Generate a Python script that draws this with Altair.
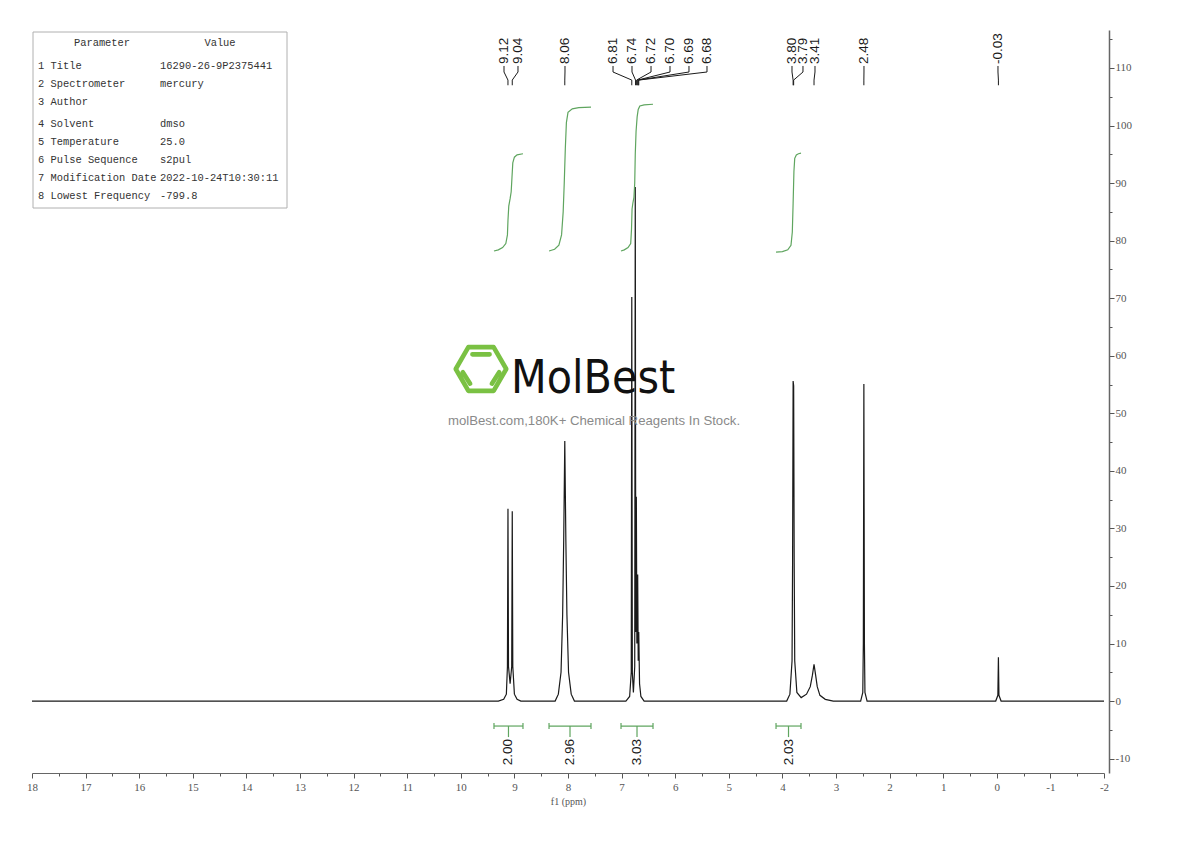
import altair as alt
import pandas as pd

# ---------------- spectrum (ppm, intensity) ----------------
spec_ppm = [18.0, 9.30, 9.20, 9.15, 9.13, 9.12, 9.11, 9.08, 9.05, 9.04, 9.03, 9.00, 8.95, 8.88,
            8.24, 8.18, 8.13, 8.10, 8.08, 8.06, 8.04, 8.02, 7.99, 7.94, 7.88,
            6.92, 6.85, 6.82, 6.81, 6.80, 6.78, 6.755, 6.745, 6.735, 6.725, 6.715, 6.70, 6.69, 6.68,
            6.665, 6.64, 6.58,
            3.92, 3.86, 3.82, 3.81, 3.80, 3.79, 3.78, 3.77, 3.73, 3.65, 3.55, 3.48, 3.44, 3.41,
            3.38, 3.35, 3.30, 3.20, 3.05,
            2.54, 2.50, 2.49, 2.48, 2.47, 2.46, 2.42,
            0.02, -0.02, -0.03, -0.04, -0.08, -2.0]
spec_int = [0.0, 0.0, 0.3, 1.2, 6.0, 33.4, 6.0, 3.0, 6.0, 33.0, 6.0, 1.2, 0.3, 0.0,
            0.0, 1.2, 5.0, 15.0, 28.0, 45.2, 28.0, 15.0, 5.0, 1.2, 0.0,
            0.0, 0.8, 5.0, 70.2, 5.0, 1.5, 6.0, 89.3, 12.0, 35.5, 10.0, 22.0, 7.0, 12.0,
            3.0, 0.8, 0.0,
            0.0, 1.2, 7.0, 24.0, 55.6, 54.8, 24.0, 7.0, 1.5, 0.6, 1.2, 2.5, 4.5, 6.4,
            4.5, 2.5, 1.0, 0.3, 0.0,
            0.0, 1.5, 10.0, 55.1, 10.0, 1.5, 0.0,
            0.0, 1.0, 7.6, 1.0, 0.0, 0.0]

# ---------------- integral curves ----------------
int1_ppm = [9.381, 9.30, 9.22, 9.16, 9.13, 9.12, 9.105, 9.08, 9.06, 9.045, 9.03, 9.00, 8.95, 8.84]
int1_val = [78.2, 78.4, 78.8, 79.5, 81.0, 83.5, 86.0, 87.3, 88.5, 91.0, 93.5, 94.5, 94.9, 95.1]
int2_ppm = [8.354, 8.25, 8.17, 8.12, 8.09, 8.07, 8.05, 8.03, 8.00, 7.92, 7.80, 7.571]
int2_val = [78.2, 78.5, 79.2, 81.0, 85.0, 90.0, 96.0, 100.5, 102.3, 102.9, 103.1, 103.2]
int3_ppm = [7.011, 6.95, 6.88, 6.83, 6.815, 6.805, 6.79, 6.77, 6.755, 6.745, 6.73, 6.71, 6.69,
            6.66, 6.58, 6.414]
int3_val = [78.2, 78.4, 78.8, 79.5, 82.0, 85.5, 86.5, 87.5, 90.0, 95.0, 99.0, 101.5, 102.8,
            103.4, 103.6, 103.7]
int4_ppm = [4.119, 4.00, 3.90, 3.84, 3.815, 3.80, 3.785, 3.77, 3.74, 3.70, 3.653]
int4_val = [78.0, 78.1, 78.4, 79.2, 81.5, 86.5, 92.0, 94.3, 94.9, 95.1, 95.2]

int_from = [9.381, 8.354, 7.011, 4.119]
int_to = [8.840, 7.571, 6.414, 3.653]
int_labels = ["2.00", "2.96", "3.03", "2.03"]

# ---------------- peak labels ----------------
peak_ppm = [9.12, 9.04, 8.06, 6.81, 6.74, 6.72, 6.70, 6.69, 6.68, 3.80, 3.79, 3.41, 2.48, -0.03]
peak_text = ["9.12", "9.04", "8.06", "6.81", "6.74", "6.72", "6.70", "6.69", "6.68",
             "3.80", "3.79", "3.41", "2.48", "-0.03"]
label_ppm = [9.194, 8.933, 8.056, 7.160, 6.806, 6.451, 6.097, 5.743, 5.407,
             3.821, 3.616, 3.392, 2.478, -0.022]

# ---------------- parameter table ----------------
param_names = ["1 Title", "2 Spectrometer", "3 Author", "4 Solvent", "5 Temperature",
               "6 Pulse Sequence", "7 Modification Date", "8 Lowest Frequency"]
param_values = ["16290-26-9P2375441", "mercury", "", "dmso", "25.0", "s2pul",
                "2022-10-24T10:30:11", "-799.8"]

logo_name = "MolBest"
logo_sub = "molBest.com,180K+ Chemical Reagents In Stock."

# ---------------- styling / layout ----------------
GREEN = "#5fa55f"
INK = "#1a1a1a"
AXC = "#555555"
SERIF = "Liberation Serif"
SANS = "Liberation Sans"
W, H = 1072, 743

XS = alt.Scale(domain=[-2, 18], reverse=True, nice=False, zero=False)
YS = alt.Scale(domain=[-12.5, 116.6], nice=False, zero=False)

X_AXIS = alt.Axis(
    values=[v / 2 for v in range(-4, 37)],
    labelExpr="datum.value % 1 === 0 ? (datum.value < 0 ? '-' + abs(datum.value) : '' + datum.value) : ''",
    tickSize={"condition": {"test": "datum.value % 1 === 0", "value": 5}, "value": 3},
    title="f1 (ppm)", titleFont=SERIF, titleFontSize=10, titleFontWeight="normal",
    titleColor=AXC, titlePadding=4,
    labelFont=SERIF, labelFontSize=11, labelColor=AXC, labelPadding=3,
    tickColor=AXC, domainColor="#666666", domainWidth=1.2, grid=False, labelFlush=False,
)
Y_AXIS = alt.Axis(
    orient="right", offset=5,
    values=list(range(-10, 116, 5)),
    labelExpr="datum.value % 10 === 0 ? (datum.value < 0 ? '-' + abs(datum.value) : '' + datum.value) : ''",
    tickSize={"condition": {"test": "datum.value % 10 === 0", "value": 5}, "value": 3},
    title=None, labelFont=SERIF, labelFontSize=11, labelColor=AXC, labelPadding=1,
    tickColor=AXC, domainColor="#666666", domainWidth=1.5, grid=False,
)


def xq(f):
    return alt.X(f, type="quantitative", scale=XS, axis=X_AXIS)


def yq(f):
    return alt.Y(f, type="quantitative", scale=YS, axis=Y_AXIS)


def px(f):
    return alt.X(f, type="quantitative", scale=None)


def py(f):
    return alt.Y(f, type="quantitative", scale=None)


# spectrum
spec_df = pd.DataFrame({"ppm": spec_ppm, "v": spec_int, "i": range(len(spec_ppm))})
spectrum = alt.Chart(spec_df).mark_line(color=INK, strokeWidth=1.2).encode(
    x=xq("ppm"), y=yq("v"), order="i:Q")

# integral curves
rows = []
for k, (pp, vv) in enumerate([(int1_ppm, int1_val), (int2_ppm, int2_val),
                              (int3_ppm, int3_val), (int4_ppm, int4_val)]):
    for j, (a, b) in enumerate(zip(pp, vv)):
        rows.append({"r": k, "ppm": a, "v": b, "i": j})
int_df = pd.DataFrame(rows)
integrals = alt.Chart(int_df).mark_line(color=GREEN, strokeWidth=1.2).encode(
    x=xq("ppm"), y=yq("v"), detail="r:N", order="i:Q")

# integral brackets below baseline (y in intensity units)
BAR_Y, CAP, TICK_Y, TXT_Y = -4.34, 0.52, -6.26, -6.6
br_df = pd.DataFrame({"a": int_from, "b": int_to, "lab": int_labels})
br_df["mid"] = (br_df["a"] + br_df["b"]) / 2
br_df["bar"] = BAR_Y
br_df["c1"] = BAR_Y + CAP
br_df["c2"] = BAR_Y - CAP
br_df["t2"] = TICK_Y
br_df["ty"] = TXT_Y
bar = alt.Chart(br_df).mark_rule(color=GREEN, strokeWidth=1.2).encode(
    x=xq("a"), x2="b", y=yq("bar"))
capl = alt.Chart(br_df).mark_rule(color=GREEN, strokeWidth=1.2).encode(
    x=xq("a"), y=yq("c1"), y2="c2")
capr = alt.Chart(br_df).mark_rule(color=GREEN, strokeWidth=1.2).encode(
    x=xq("b"), y=yq("c1"), y2="c2")
ctick = alt.Chart(br_df).mark_rule(color=GREEN, strokeWidth=1.2).encode(
    x=xq("mid"), y=yq("bar"), y2="t2")
brtxt = alt.Chart(br_df).mark_text(angle=270, align="right", baseline="middle",
                                   font=SANS, fontSize=13.5, color=INK).encode(
    x=xq("mid"), y=yq("ty"), text="lab:N")

# peak labels with connectors (y in intensity units)
LAB_Y, C0, C1, C2, C3 = 110.7, 110.35, 109.3, 107.9, 107.0
lab_df = pd.DataFrame({"p": peak_ppm, "lx": label_ppm, "t": peak_text})
lab_df["ly"] = LAB_Y
conn = []
for k, (p, lx) in enumerate(zip(peak_ppm, label_ppm)):
    for j, (xx, yy) in enumerate([(lx, C0), (lx, C1), (p, C2), (p, C3)]):
        conn.append({"k": k, "x": xx, "y": yy, "i": j})
conn_df = pd.DataFrame(conn)
connectors = alt.Chart(conn_df).mark_line(color=INK, strokeWidth=1).encode(
    x=xq("x"), y=yq("y"), detail="k:N", order="i:Q")
ptxt = alt.Chart(lab_df).mark_text(angle=270, align="left", baseline="middle",
                                   font=SANS, fontSize=13.5, color=INK).encode(
    x=xq("lx"), y=yq("ly"), text="t:N")

# parameter table (pixel layout inside plot area)
tb_rows = pd.DataFrame({
    "name": param_names,
    "val": param_values,
    "y": [36 + 18 * i + (4 if i >= 3 else 0) for i in range(len(param_names))],
})
tb_rows["xn"] = 6
tb_rows["xv"] = 128
TFONT = dict(font="Liberation Mono", fontSize=10.4, color="#333333", baseline="middle")
box = alt.Chart(pd.DataFrame({"x0": [1], "x1": [255], "y0": [2], "y1": [178]})).mark_rect(
    fill="white", stroke="#b0b0b0", strokeWidth=1).encode(
    x=px("x0"), x2="x1", y=py("y0"), y2="y1")
hdr = alt.Chart(pd.DataFrame({"t": ["Parameter", "Value"], "x": [70, 188], "y": [13, 13]})).mark_text(
    align="center", **TFONT).encode(x=px("x"), y=py("y"), text="t:N")
tname = alt.Chart(tb_rows).mark_text(align="left", **TFONT).encode(
    x=px("xn"), y=py("y"), text="name:N")
tval = alt.Chart(tb_rows).mark_text(align="left", **TFONT).encode(
    x=px("xv"), y=py("y"), text="val:N")

# logo watermark
HEX = ("M-1,0L-0.5,-0.866L0.5,-0.866L1,0L0.5,0.866L-0.5,0.866Z "
       "M-0.34,-0.58L0.34,-0.58 M-0.72,0.13L-0.43,0.58 M0.72,0.13L0.43,0.58")
logo_df = pd.DataFrame({"name": [logo_name], "sub": [logo_sub]})
hexa = alt.Chart(logo_df).mark_point(
    shape=HEX, size=2550, filled=False, stroke="#7ac143", strokeWidth=4.6, opacity=1,
    strokeJoin="round", strokeCap="round").encode(
    x=alt.value(449), y=alt.value(339))
ltxt = alt.Chart(logo_df).mark_text(
    font="Liberation Sans Narrow, DejaVu Sans Condensed, Liberation Sans", fontSize=46,
    color="#111111", align="left", baseline="alphabetic").encode(
    x=alt.value(479), y=alt.value(363), text="name:N")
lsub = alt.Chart(logo_df).mark_text(
    font=SANS, fontSize=13.2, color="#8a8a8a", align="center", baseline="middle").encode(
    x=alt.value(562), y=alt.value(391), text="sub:N")

chart = alt.layer(
    spectrum, box, hdr, tname, tval, hexa, ltxt, lsub,
    integrals, bar, capl, capr, ctick, brtxt, connectors, ptxt,
).properties(
    width=W, height=H,
    autosize=alt.AutoSizeParams(type="none"),
    padding={"left": 24, "top": 22, "right": 60, "bottom": 60},
    background="white",
).configure_view(stroke=None)

chart.save("out.html", embed_options={"renderer": "svg", "actions": False})
